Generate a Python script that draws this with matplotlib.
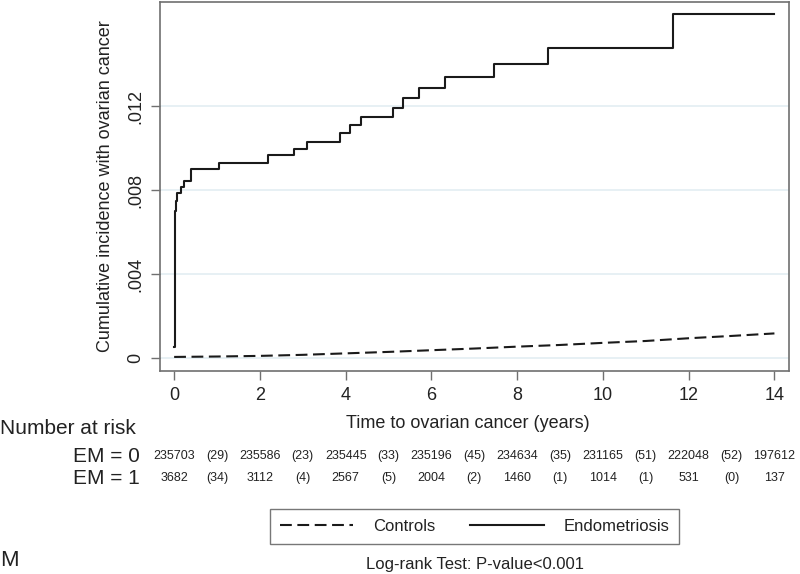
import matplotlib
matplotlib.use("Agg")
import matplotlib.pyplot as plt
from matplotlib.transforms import blended_transform_factory

plt.rcParams["font.family"] = ["Liberation Sans", "DejaVu Sans"]
plt.rcParams["lines.scale_dashes"] = False

# Endometriosis (step function, cumulative incidence)
em_time = [0, 0.01, 0.02, 0.03, 0.05, 0.07, 0.16, 0.23, 0.40, 1.04, 2.19, 2.79,
           3.11, 3.87, 4.11, 4.36, 5.10, 5.33, 5.70, 6.32, 7.46, 8.71, 11.63, 14.0]
em_inc = [0.00055, 0.0045, 0.0060, 0.0070, 0.0075, 0.0079, 0.00817, 0.00846,
          0.0090, 0.00931, 0.00967, 0.00998, 0.01033, 0.01074, 0.01112, 0.01152,
          0.01195, 0.0124, 0.01289, 0.0134, 0.01401, 0.01479, 0.0164, 0.0164]

# Controls (many tiny steps, read as a slowly rising curve)
ctrl_time = [0, 1, 2, 3, 4, 5, 6, 7, 8, 9, 10, 11, 12, 13, 14]
ctrl_inc = [0.00007, 0.00009, 0.00012, 0.00017, 0.00024, 0.00031, 0.00039,
            0.00047, 0.00056, 0.00064, 0.00074, 0.00083, 0.00096, 0.00107, 0.00119]

# risk table
risk_years = [0, 2, 4, 6, 8, 10, 12, 14]
risk_em0 = ["235703", "235586", "235445", "235196", "234634", "231165", "222048", "197612"]
risk_em1 = ["3682", "3112", "2567", "2004", "1460", "1014", "531", "137"]
event_years = [1, 3, 5, 7, 9, 11, 13]
events_em0 = ["(29)", "(23)", "(33)", "(45)", "(35)", "(51)", "(52)"]
events_em1 = ["(34)", "(4)", "(5)", "(2)", "(1)", "(1)", "(0)"]

yticks = [0, 0.004, 0.008, 0.012]
ytick_labels = ["0", ".004", ".008", ".012"]
xticks = [0, 2, 4, 6, 8, 10, 12, 14]

W, H = 800, 574
fig = plt.figure(figsize=(8, 5.74), dpi=100)
ax = fig.add_axes([160 / W, 1 - 371 / H, 629 / W, 369.5 / H])

line_col = "#1a1a1a"
frame_col = "#707070"
text_col = "#222222"

ax.plot(ctrl_time, ctrl_inc, color=line_col, lw=1.5,
        dashes=(8.5, 4), label="Controls")
ax.step(em_time, em_inc, where="post", color=line_col, lw=1.5,
        label="Endometriosis")

ax.set_xlim(-0.33, 14.34)
ax.set_ylim(-0.0006, 0.017)
ax.set_xticks(xticks)
ax.set_yticks(yticks)
ax.set_yticklabels(ytick_labels, rotation=90, va="center")
ax.grid(axis="y", color="#e3edf2", lw=1.2)
ax.set_axisbelow(True)
for s in ax.spines.values():
    s.set_color(frame_col)
    s.set_linewidth(1.2)
ax.tick_params(length=6.5, width=1, color=frame_col, labelsize=13,
               labelcolor=text_col)
ax.tick_params(axis="x", pad=5)
ax.tick_params(axis="y", pad=5)

ax.set_ylabel("Cumulative incidence with ovarian cancer", fontsize=13,
              color=text_col)
ax.yaxis.set_label_coords(-0.073, 0.5)

fig.text(468 / W, 1 - 423 / H, "Time to ovarian cancer (years)",
         ha="center", va="center", fontsize=13, color=text_col)
fig.text(0, 1 - 428 / H, "Number at risk", ha="left", va="center",
         fontsize=15, color=text_col)

row_y = [1 - 456 / H, 1 - 478 / H]
fig.text(140 / W, row_y[0], "EM = 0", ha="right", va="center", fontsize=15,
         color=text_col)
fig.text(140 / W, row_y[1], "EM = 1", ha="right", va="center", fontsize=15,
         color=text_col)

tr = blended_transform_factory(ax.transData, fig.transFigure)
for x, a, b in zip(risk_years, risk_em0, risk_em1):
    ax.text(x, row_y[0], a, transform=tr, ha="center", va="center",
            fontsize=9, color=text_col)
    ax.text(x, row_y[1], b, transform=tr, ha="center", va="center",
            fontsize=9, color=text_col)
for x, a, b in zip(event_years, events_em0, events_em1):
    ax.text(x, row_y[0], a, transform=tr, ha="center", va="center",
            fontsize=9, color=text_col)
    ax.text(x, row_y[1], b, transform=tr, ha="center", va="center",
            fontsize=9, color=text_col)

handles, labels = ax.get_legend_handles_labels()
leg = fig.legend(handles, labels, loc="center",
                 bbox_to_anchor=(474.5 / W, 1 - 526.5 / H), ncol=2,
                 fontsize=12, frameon=True, fancybox=False, edgecolor="#555555",
                 handlelength=4.4, handletextpad=1.2, columnspacing=2.1,
                 borderpad=0.6, borderaxespad=0)
leg.get_frame().set_linewidth(1.0)
for t in leg.get_texts():
    t.set_color(text_col)

fig.text(0, 1 - 560 / H, "M", ha="left", va="center", fontsize=16,
         color=text_col)
fig.text(474.5 / W, 1 - 565 / H, "Log-rank Test: P-value<0.001",
         ha="center", va="center", fontsize=12, color=text_col)

fig.savefig("out.png", dpi=100)
